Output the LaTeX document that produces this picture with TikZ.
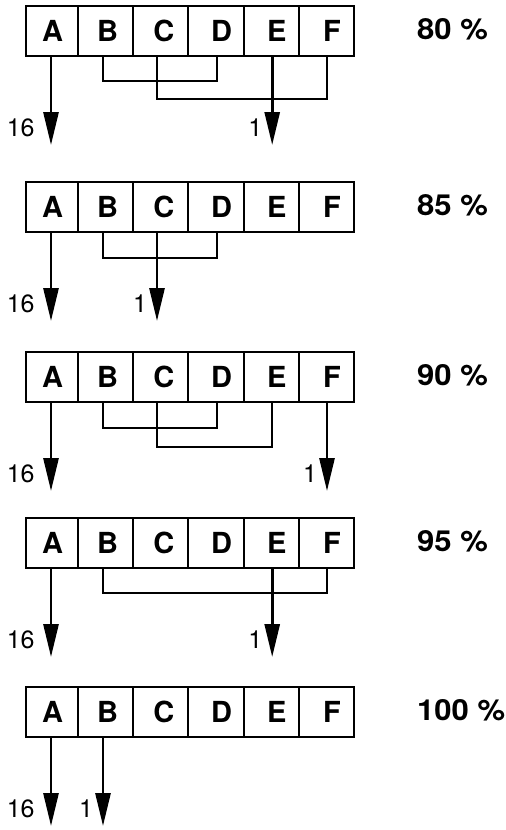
\documentclass[tikz,border=0pt]{standalone}
\usepackage{fontspec}
\setmainfont{TeX Gyre Heros}
\newfontfamily\pctfont[FakeStretch=1.07]{TeX Gyre Heros}
\usetikzlibrary{arrows.meta,positioning}

\tikzset{
  cell/.style={draw, rectangle, line width=2pt, minimum height=50pt,
    inner sep=0pt, font=\fontsize{29}{29}\selectfont\bfseries},
  pct/.style={anchor=west, inner sep=0pt, font=\pctfont\fontsize{29}{30}\selectfont\bfseries},
  bracket/.style={line width=2pt},
  flow/.style={line width=2.8pt, -{Triangle[length=33pt,width=15pt]}},
  num/.style={inner sep=0pt, font=\fontsize{25}{25}\selectfont},
}

\begin{document}
\begin{tikzpicture}[x=1pt,y=-1pt]
\useasboundingbox (0,0) rectangle (506,830);
% Parameters
\def\drop{88}

% Cell rows and percentages
% cell / centre / width / text shift / stem shift
\foreach \row/\yc/\pct in {1/31/80, 2/207/85, 3/377/90, 4/543/95, 5/712/100} {
  \foreach \c/\cx/\cw/\tx/\dx in {A/52/52/1/-1, B/105.6/55.2/4/-2.6, C/160.8/55.2/6/-3.8,
                                  D/216/55.2/11/1, E/271.2/55.2/11/1, F/326.4/55.2/11/0.6} {
    \node[cell, minimum width=\cw pt] (r\row\c) at (\cx,\yc) {\hspace*{\tx pt}\c};
    \coordinate (r\row\c s) at ([xshift=\dx pt]r\row\c.south);
  }
  \node[pct] (p\row) at (417,\yc-2) {\pct\ \%};
}

% 80 %
\draw[bracket] (r1Bs) -- ([yshift=-24pt]r1Bs) -| (r1Ds);
\draw[bracket] (r1Cs) -- ([yshift=-42pt]r1Cs) -| (r1Fs);
\draw[flow] (r1As) -- ++(0,\drop) node[num,pos=0.8,left=15pt]{16};
\draw[flow] (r1Es) -- ++(0,\drop) node[num,pos=0.8,left=8.5pt]{1};

% 85 %
\draw[bracket] (r2Bs) -- ([yshift=-25pt]r2Bs) -| (r2Ds);
\draw[flow] (r2As) -- ++(0,\drop) node[num,pos=0.8,left=15pt]{16};
\draw[flow] (r2Cs) -- ++(0,\drop) node[num,pos=0.8,left=8.5pt]{1};

% 90 %
\draw[bracket] (r3Bs) -- ([yshift=-25pt]r3Bs) -| (r3Ds);
\draw[bracket] (r3Cs) -- ([yshift=-44pt]r3Cs) -| (r3Es);
\draw[flow] (r3As) -- ++(0,\drop) node[num,pos=0.8,left=15pt]{16};
\draw[flow] (r3Fs) -- ++(0,\drop) node[num,pos=0.8,left=8.5pt]{1};

% 95 %
\draw[bracket] (r4Bs) -- ([yshift=-24pt]r4Bs) -| (r4Fs);
\draw[flow] (r4As) -- ++(0,\drop) node[num,pos=0.8,left=15pt]{16};
\draw[flow] (r4Es) -- ++(0,\drop) node[num,pos=0.8,left=8.5pt]{1};

% 100 %
\draw[flow] (r5As) -- ++(0,\drop) node[num,pos=0.8,left=15pt]{16};
\draw[flow] (r5Bs) -- ++(0,\drop) node[num,pos=0.8,left=8.5pt]{1};

\end{tikzpicture}
\end{document}
